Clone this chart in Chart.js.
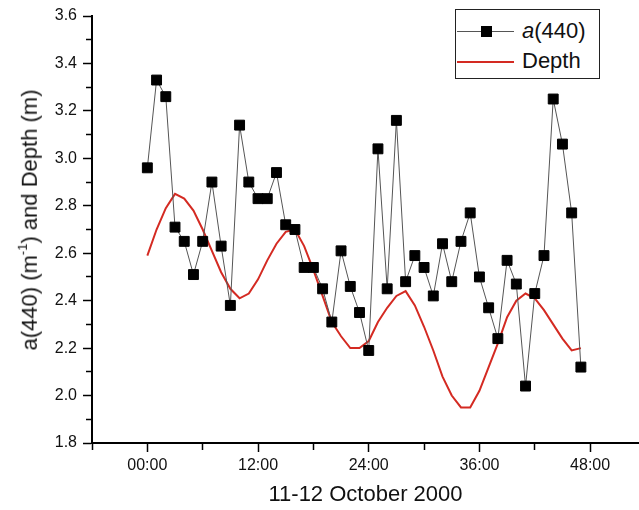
<!DOCTYPE html>
<html>
<head>
<meta charset="utf-8">
<script src="https://cdn.jsdelivr.net/npm/chart.js@4.4.0/dist/chart.umd.min.js"></script>
<style>
  html, body { margin: 0; padding: 0; background: #fff; }
  #wrap { position: relative; width: 639px; height: 510px; font-family: "Liberation Sans", Arial, sans-serif; color: #111; }
  #chart { position: absolute; left: 0; top: 0; }
  #ytitle {
    position: absolute; left: 30px; top: 220px; white-space: nowrap;
    font-size: 22px; transform: translate(-50%, -50%) rotate(-90deg);
  }
  #ytitle sup { font-size: 13px; position: relative; top: -2px; }
  #legend {
    position: absolute; left: 455px; top: 9px; width: 143px; height: 68px;
    border: 1.5px solid #222; background: #fff;
  }
  .lg-row { position: absolute; left: 0; height: 26px; font-size: 22px; line-height: 26px; }
  .lg-line { position: absolute; left: 1px; width: 57px; }
  .lg-mark { position: absolute; width: 11px; height: 11px; background: #000; }
  .lg-text { position: absolute; left: 66px; top: 0; white-space: nowrap; }
</style>
</head>
<body>
<div id="wrap">
  <canvas id="chart" width="639" height="510"></canvas>
  <div id="ytitle">a(440) (m<sup>-1</sup>) and Depth (m)</div>
  <div id="legend">
    <div class="lg-row" style="top:8px;width:143px;">
      <div class="lg-line" style="top:13px;border-top:1px solid #555;"></div>
      <div class="lg-mark" style="left:25px;top:8px;"></div>
      <div class="lg-text"><i>a</i>(440)</div>
    </div>
    <div class="lg-row" style="top:38px;width:143px;">
      <div class="lg-line" style="top:13px;border-top:2px solid #d42a22;"></div>
      <div class="lg-text">Depth</div>
    </div>
  </div>
</div>
<script>
// hours since 00:00 on 11 October 2000
const hours = [0, 1, 2, 3, 4, 5, 6, 7, 8, 9, 10, 11, 12, 13, 14, 15, 16, 17, 18, 19, 20, 21, 22, 23,
               24, 25, 26, 27, 28, 29, 30, 31, 32, 33, 34, 35, 36, 37, 38, 39, 40, 41, 42, 43, 44, 45, 46, 47];

const a440 = [2.96, 3.33, 3.26, 2.71, 2.65, 2.51, 2.65, 2.90, 2.63, 2.38,
              3.14, 2.90, 2.83, 2.83, 2.94, 2.72, 2.70, 2.54, 2.54, 2.45,
              2.31, 2.61, 2.46, 2.35, 2.19, 3.04, 2.45, 3.16, 2.48, 2.59,
              2.54, 2.42, 2.64, 2.48, 2.65, 2.77, 2.50, 2.37, 2.24, 2.57,
              2.47, 2.04, 2.43, 2.59, 3.25, 3.06, 2.77, 2.12];

const depth = [2.59, 2.70, 2.79, 2.85, 2.83, 2.78, 2.70, 2.61, 2.52, 2.45,
               2.41, 2.43, 2.49, 2.57, 2.64, 2.69, 2.70, 2.63, 2.53, 2.42,
               2.31, 2.25, 2.20, 2.20, 2.23, 2.31, 2.37, 2.42, 2.44, 2.38,
               2.29, 2.19, 2.08, 2.00, 1.95, 1.95, 2.02, 2.12, 2.22, 2.33,
               2.40, 2.43, 2.41, 2.36, 2.30, 2.24, 2.19, 2.20];

const xTickHours = [-6, 0, 6, 12, 18, 24, 30, 36, 42, 48];
const xMajorHours = [0, 12, 24, 36, 48];
const xMajorLabels = ['00:00', '12:00', '24:00', '36:00', '48:00'];

const font = "'Liberation Sans', Arial, sans-serif";

function pts(xs, ys) {
    return xs.map((x, i) => ({ x: x, y: ys[i] }));
}

const ctx = document.getElementById('chart').getContext('2d');
new Chart(ctx, {
    type: 'line',
    data: {
        datasets: [{
            label: 'a(440)',
            data: pts(hours, a440),
            borderColor: '#555',
            borderWidth: 1,
            pointStyle: 'rect',
            pointRadius: 7,
            pointBackgroundColor: '#000',
            pointBorderColor: '#000',
            pointBorderWidth: 1,
            tension: 0
        }, {
            label: 'Depth',
            data: pts(hours, depth),
            borderColor: '#d42a22',
            borderWidth: 2,
            pointRadius: 0,
            tension: 0
        }]
    },
    options: {
        responsive: false,
        animation: false,
        layout: { autoPadding: false, padding: { top: 16, right: 0, left: 0, bottom: 0 } },
        plugins: { legend: { display: false }, tooltip: { enabled: false } },
        scales: {
            x: {
                type: 'linear',
                min: -6,
                max: 53.3,
                afterBuildTicks: s => { s.ticks = xTickHours.map(v => ({ value: v })); },
                afterFit: s => { s.height = 67; },
                border: { display: true, color: '#000', width: 2 },
                grid: {
                    drawOnChartArea: false,
                    drawTicks: true,
                    tickLength: 9,
                    tickWidth: 1.5,
                    tickColor: '#000',
                    tickBorderDash: c => xMajorHours.includes(c.tick.value) ? [] : [6, 100]
                },
                ticks: {
                    autoSkip: false,
                    maxRotation: 0,
                    padding: 4,
                    color: '#111',
                    font: { family: font, size: 16 },
                    callback: v => {
                        const i = xMajorHours.indexOf(v);
                        return i >= 0 ? xMajorLabels[i] : '';
                    }
                },
                title: {
                    display: true,
                    text: '11-12 October 2000',
                    color: '#111',
                    font: { family: font, size: 22 },
                    padding: { top: 0, bottom: 2 }
                }
            },
            y: {
                min: 1.8,
                max: 3.6,
                afterFit: s => { s.width = 92; },
                border: { display: true, color: '#000', width: 2 },
                grid: {
                    drawOnChartArea: false,
                    drawTicks: true,
                    tickLength: 9,
                    tickWidth: 1.5,
                    tickColor: '#000',
                    tickBorderDash: c => Math.round(c.tick.value * 10) % 2 === 0 ? [] : [6, 3],
                    tickBorderDashOffset: 6
                },
                ticks: {
                    stepSize: 0.1,
                    autoSkip: false,
                    padding: 6,
                    color: '#111',
                    font: { family: font, size: 16 },
                    callback: v => {
                        const r = Math.round(v * 10);
                        return r % 2 === 0 ? (r / 10).toFixed(1) : '';
                    }
                }
            }
        }
    }
});
</script>
</body>
</html>
